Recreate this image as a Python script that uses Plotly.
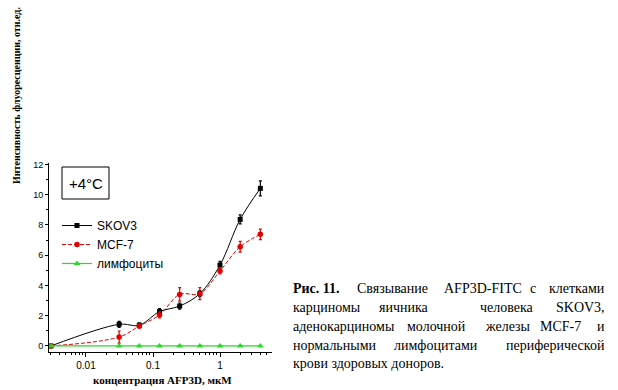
import plotly.graph_objects as go

# ---- data ----
conc = [0.003, 0.03125, 0.0625, 0.125, 0.25, 0.5, 1, 2, 4]
skov3 = [0, 1.43, 1.37, 2.27, 2.64, 3.46, 5.35, 8.37, 10.42]
skov3_err = [0, 0.2, 0.15, 0.2, 0.2, 0.2, 0.25, 0.3, 0.5]
mcf7 = [0, 0.59, 1.32, 2.05, 3.41, 3.46, 4.96, 6.56, 7.38]
mcf7_err = [0, 0.4, 0.15, 0.2, 0.45, 0.4, 0.2, 0.35, 0.35]
lymph = [0, 0, 0, 0, 0, 0, 0, 0, 0]

names = ["SKOV3", "MCF-7", "лимфоциты"]
x_ticks = [0.01, 0.1, 1]
x_ticklabels = ["0.01", "0.1", "1"]
y_ticks = [0, 2, 4, 6, 8, 10, 12]

W, H = 618, 390
L, R, T, B = 49, 272, 163, 352


def px(X):
    return (X - L) / (R - L)


def py(Y):
    return (B - Y) / (B - T)


fig = go.Figure()
fig.add_trace(go.Scatter(
    x=conc, y=skov3, name=names[0], mode="lines+markers",
    line=dict(color="black", width=1, shape="spline"),
    marker=dict(symbol="square", size=5, color="black"),
    error_y=dict(type="data", array=skov3_err, color="black", thickness=1.2, width=1.5),
))
fig.add_trace(go.Scatter(
    x=conc, y=mcf7, name=names[1], mode="lines+markers",
    line=dict(color="#e00000", width=1, shape="spline", dash="4px,2px"),
    marker=dict(symbol="circle", size=5.5, color="#e00000"),
    error_y=dict(type="data", array=mcf7_err, color="#e00000", thickness=1.2, width=1.5),
))
fig.add_trace(go.Scatter(
    x=conc, y=lymph, name=names[2], mode="lines+markers",
    line=dict(color="#22dd22", width=1.2),
    marker=dict(symbol="triangle-up", size=6, color="#22dd22"),
))

serif = "Liberation Serif, Times New Roman, serif"
sans = "Liberation Sans, Arial, sans-serif"

fig.update_layout(
    width=W, height=H,
    margin=dict(l=L, r=W - R, t=T, b=H - B, pad=0, autoexpand=False),
    paper_bgcolor="white", plot_bgcolor="white",
    showlegend=True,
    legend=dict(x=px(57), y=py(211), xanchor="left", yanchor="top",
                font=dict(family=sans, size=12, color="black"),
                bgcolor="rgba(0,0,0,0)", tracegroupgap=0, itemwidth=30),
    xaxis=dict(type="log", range=[-2.552, 0.776], showgrid=False, zeroline=False,
               showline=True, linecolor="black", linewidth=1, automargin=False,
               tickvals=x_ticks, ticktext=x_ticklabels, ticks="outside", ticklen=4,
               tickcolor="black",
               minor=dict(ticks="outside", ticklen=2, tickcolor="black", dtick="D1", showgrid=False),
               tickfont=dict(family=sans, size=10, color="black")),
    yaxis=dict(range=[-0.4, 12.1], showgrid=False, zeroline=False,
               showline=True, linecolor="black", linewidth=1, automargin=False,
               tickvals=y_ticks, ticks="outside", ticklen=3, tickcolor="black",
               minor=dict(ticks="outside", ticklen=2, tickcolor="black", dtick=1, showgrid=False),
               tickfont=dict(family=sans, size=9, color="black")),
)

ann = []


def add_text(x, y, text, size, family, xanchor="center", angle=0):
    ann.append(dict(x=px(x), y=py(y), xref="paper", yref="paper", showarrow=False,
                    xanchor=xanchor, yanchor="middle", textangle=angle, text=text,
                    font=dict(family=family, size=size, color="black")))


# axis titles
add_text(162, 380, "<b>концентрация AFP3D, мкМ</b>", 11, serif)
add_text(16, 96, "<b>Интенсивность флуоресценции, отн.ед.</b>", 10, serif, angle=-90)
# temperature label box
fig.add_shape(type="rect", xref="paper", yref="paper",
              x0=px(62), x1=px(109), y0=py(199), y1=py(167),
              line=dict(color="black", width=1), fillcolor="white")
add_text(86, 183, "+4°C", 15, sans)

# caption (justified by word positions)
x0c, x1c = 291, 607
lines = [
    (288, [("<b>Рис. 11.</b>", "l", x0c), ("Связывание", "l", 355), ("AFP3D-FITC", "l", 442),
           ("с", "l", 528), ("клетками", "r", x1c)]),
    (307, [("карциномы", "l", x0c), ("яичника", "l", 377), ("человека", "l", 478),
           ("SKOV3,", "r", x1c)]),
    (326, [("аденокарциномы", "l", x0c), ("молочной", "l", 405), ("железы", "l", 483),
           ("MCF-7", "l", 538), ("и", "r", x1c)]),
    (345, [("нормальными", "l", x0c), ("лимфоцитами", "l", 392), ("периферической", "r", x1c)]),
    (363, [("крови здоровых доноров.", "l", x0c)]),
]
anch = {"l": "left", "c": "center", "r": "right"}
for yy, words in lines:
    for txt, a, xx in words:
        add_text(xx, yy, txt, 14, serif, xanchor=anch[a])

fig.update_layout(annotations=ann)
fig.write_html("out.html", config={"displayModeBar": False},
               post_script="document.body.style.margin='0';document.body.style.padding='0';")
